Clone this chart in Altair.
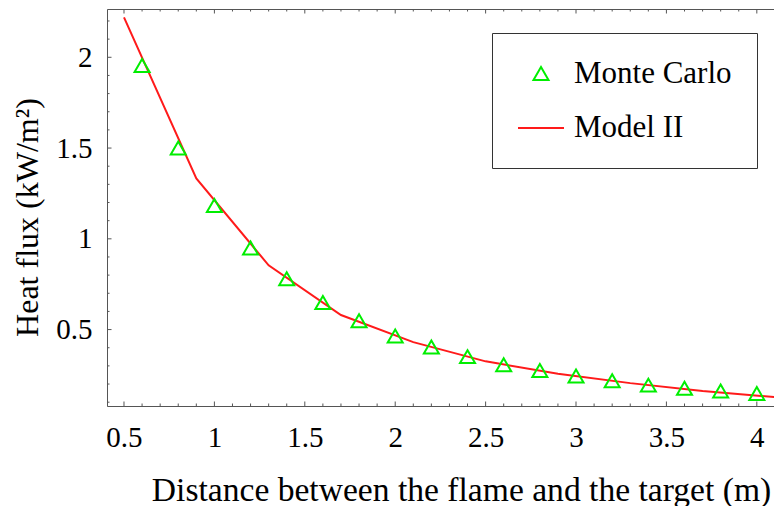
import altair as alt
import pandas as pd

# ---------------- data ----------------
mc_x = [0.6, 0.8, 1.0, 1.2, 1.4, 1.6, 1.8, 2.0, 2.2, 2.4, 2.6, 2.8, 3.0, 3.2, 3.4, 3.6, 3.8, 4.0]
mc_y = [1.955, 1.50, 1.184, 0.949, 0.780, 0.649, 0.549, 0.465, 0.404, 0.351, 0.306,
        0.274, 0.244, 0.218, 0.194, 0.177, 0.162, 0.148]
model_x = [0.5, 0.9, 1.3, 1.7, 2.1, 2.5, 2.9, 3.3, 3.7, 4.1]
model_y = [2.22, 1.333, 0.854, 0.58, 0.431, 0.325, 0.257, 0.205, 0.162, 0.128]
series_names = ["Monte Carlo", "Model II"]

x_major = [0.5, 1.0, 1.5, 2.0, 2.5, 3.0, 3.5, 4.0]
x_minor = [0.6, 0.7, 0.8, 0.9, 1.1, 1.2, 1.3, 1.4, 1.6, 1.7, 1.8, 1.9, 2.1, 2.2, 2.3, 2.4,
           2.6, 2.7, 2.8, 2.9, 3.1, 3.2, 3.3, 3.4, 3.6, 3.7, 3.8, 3.9]
y_major = [0.5, 1.0, 1.5, 2.0]
y_minor = [0.1, 0.2, 0.3, 0.4, 0.6, 0.7, 0.8, 0.9, 1.1, 1.2, 1.3, 1.4, 1.6, 1.7, 1.8, 1.9,
           2.1, 2.2]

x_title = "Distance between the flame and the target (m)"
y_title = "Heat flux (kW/m²)"

# ---------------- style ----------------
W, H = 667, 397
FONT = "Liberation Serif"
AX = "#555555"
GREEN = "#00ee00"
RED = "#ff1a1a"

xs = alt.Scale(domain=[0.406, 4.095], nice=False, zero=False)
ys = alt.Scale(domain=[0.079, 2.266], nice=False, zero=False)

mc_df = pd.DataFrame({"x": mc_x, "y": mc_y, "series": series_names[0]})
model_df = pd.DataFrame({"x": model_x, "y": model_y, "series": series_names[1]})

color = alt.Color("series:N", scale=alt.Scale(domain=series_names, range=[GREEN, RED]),
                  legend=alt.Legend(title=None, orient="none", legendX=385, legendY=24,
                                    strokeColor="#333333", fillColor="white", padding=25,
                                    labelFont=FONT, labelFontSize=31, labelColor="black",
                                    labelLimit=400, labelOffset=9, rowPadding=15,
                                    symbolStrokeWidth=2))

line = alt.Chart(model_df).mark_line(strokeWidth=2, clip=False).encode(
    x=alt.X("x:Q", scale=xs,
            axis=alt.Axis(orient="bottom", values=x_major, format="~g", ticks=False, tickSize=0,
                          grid=False, domain=True, domainColor=AX, labelPadding=17,
                          labelFont=FONT, labelFontSize=29, labelColor="black",
                          title=x_title, titleFont=FONT, titleFontSize=33.6,
                          titleFontWeight="normal", titleColor="black",
                          titleX=354, titleY=94, titleBaseline="alphabetic",
                          titleAlign="center")),
    y=alt.Y("y:Q", scale=ys,
            axis=alt.Axis(orient="left", values=y_major, format="~g", ticks=False, tickSize=0,
                          grid=False, domain=True, domainColor=AX, labelPadding=15,
                          labelFont=FONT, labelFontSize=29, labelColor="black",
                          title=y_title, titleFont=FONT, titleFontSize=32,
                          titleFontWeight="normal", titleColor="black",
                          titleX=-80, titleY=208, titleAngle=-90,
                          titleBaseline="middle", titleAlign="center")),
    color=color,
)

points = alt.Chart(mc_df).mark_point(filled=False, strokeWidth=2, opacity=1).encode(
    x=alt.X("x:Q", scale=xs, axis=None),
    y=alt.Y("y:Q", scale=ys, axis=None),
    color=color,
    shape=alt.Shape("series:N", scale=alt.Scale(domain=series_names,
                                                range=["triangle-up", "M-1,0L1,0"])),
    size=alt.Size("series:N", scale=alt.Scale(domain=series_names, range=[225, 2116])),
)


def xticks(vals, y0, y1, axis=None):
    return alt.Chart(pd.DataFrame({"t": vals})).mark_rule(color=AX, strokeWidth=1).encode(
        x=alt.X("t:Q", scale=xs, axis=axis), y=alt.value(y0), y2=alt.value(y1))


def yticks(vals, x0, x1):
    return alt.Chart(pd.DataFrame({"t": vals})).mark_rule(color=AX, strokeWidth=1).encode(
        y=alt.Y("t:Q", scale=ys, axis=None), x=alt.value(x0), x2=alt.value(x1))


top_axis = alt.Axis(orient="top", labels=False, ticks=False, domain=True, domainColor=AX,
                    grid=False, title="")

layers = [
    line,
    xticks(x_major, 0, 4.5, axis=top_axis),
    xticks(x_minor, 0, 2.5),
    xticks(x_major, H, H - 4.5),
    xticks(x_minor, H, H - 2.5),
    yticks(y_major, 0, 4.5),
    yticks(y_minor, 0, 2.5),
    points,
]

chart = alt.layer(*layers).resolve_axis(x="independent", y="independent").properties(
    width=W, height=H,
    autosize=alt.AutoSizeParams(type="none"),
    padding={"left": 99, "top": 1, "right": 0, "bottom": 100},
).configure_view(stroke=None).configure(font=FONT)

chart.save("out.html", embed_options={"renderer": "svg", "actions": False})
